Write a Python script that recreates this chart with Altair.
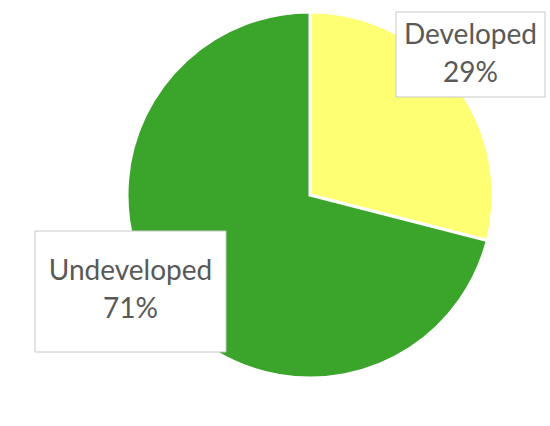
import altair as alt
import pandas as pd

categories = ["Developed", "Undeveloped"]
shares = [29, 71]
slice_order = [0, 1]
colors = ["#FFFF73", "#3AA52A"]

df = pd.DataFrame({"category": categories, "share": shares, "order": slice_order})

# label box layout (pixels): x0, x1, y0, y1, first text line centre y
boxes = {
    "Developed": (396, 545, 12, 97, 36),
    "Undeveloped": (35, 226, 231, 352, 272),
}

base = alt.Chart(df)

pie = base.mark_arc(radius=183, stroke="white", strokeWidth=3).encode(
    theta=alt.Theta("share:Q", stack=True),
    color=alt.Color("category:N", scale=alt.Scale(domain=categories, range=colors), legend=None),
    order=alt.Order("order:Q"),
    x=alt.value(310),
    y=alt.value(195),
)

layers = [pie]
for cat, (x0, x1, y0, y1, ty) in boxes.items():
    sub = base.transform_filter(alt.datum.category == cat)
    rect = sub.mark_rect(fill="white", stroke="#C8C8C8", strokeWidth=1).encode(
        x=alt.value(x0), x2=alt.value(x1), y=alt.value(y0), y2=alt.value(y1)
    )
    txt = sub.transform_calculate(
        label="datum.category + '\\n' + datum.share + '%'"
    ).mark_text(
        lineBreak="\n", font="Lato", fontSize=28, color="#595959",
        lineHeight=38, baseline="middle", align="center"
    ).encode(
        text="label:N",
        x=alt.value((x0 + x1) / 2),
        y=alt.value(ty),
    )
    layers += [rect, txt]

chart = alt.layer(*layers).properties(
    width=550, height=426, padding=0, autosize=alt.AutoSizeParams(type="none")
).configure_view(stroke=None)

chart.save("out.html", embed_options={"renderer": "svg", "actions": False})
